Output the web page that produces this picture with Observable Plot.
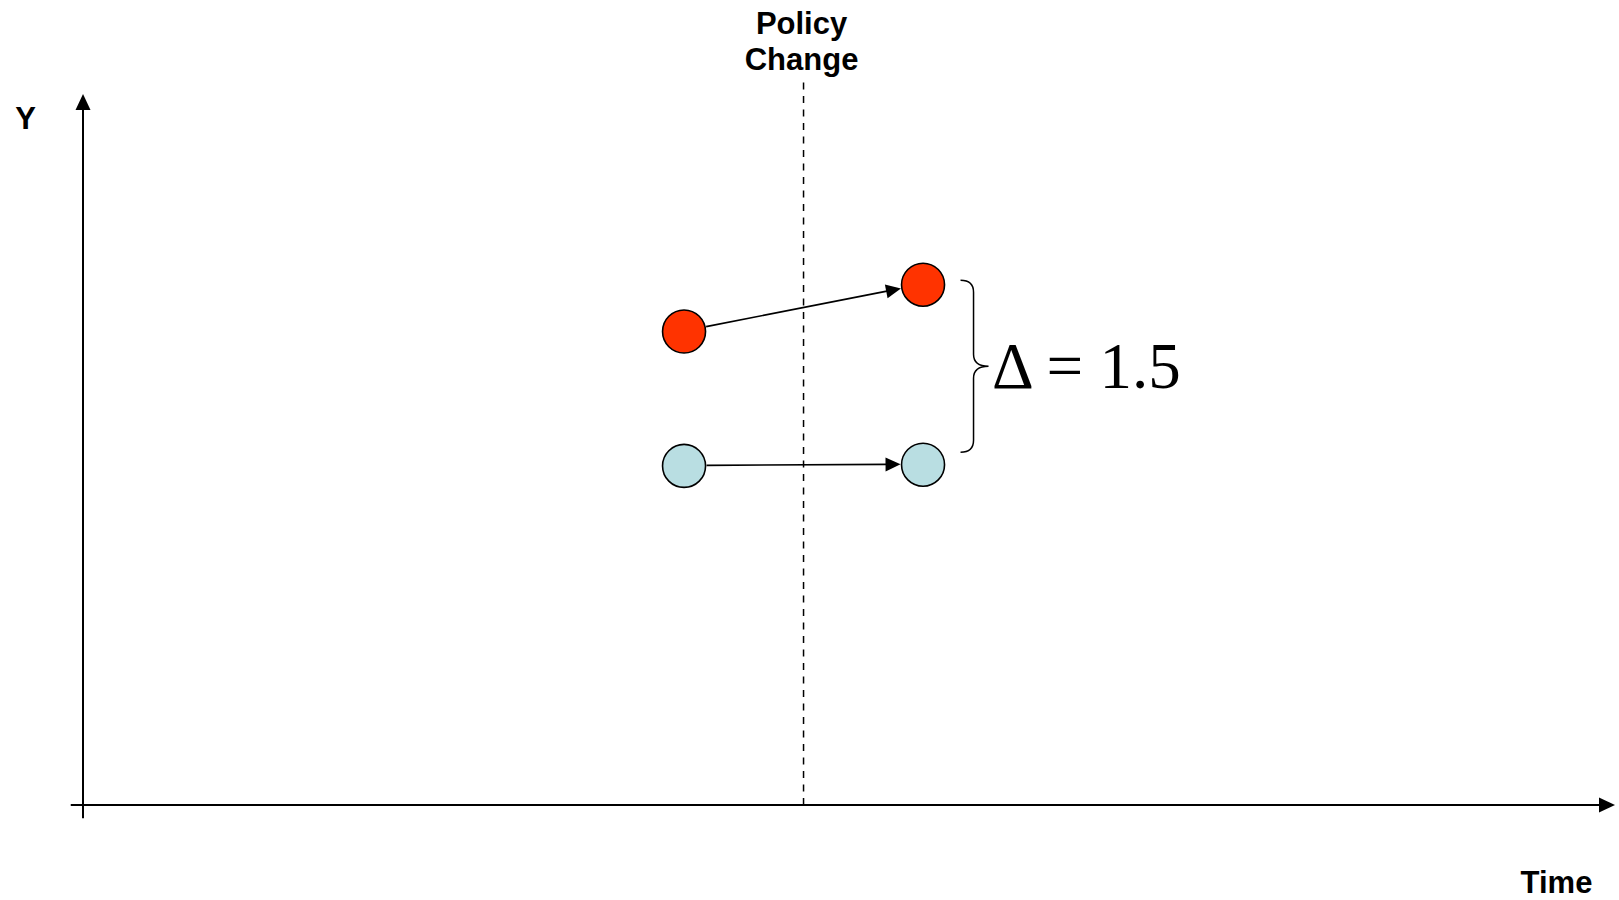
<!DOCTYPE html>
<html>
<head>
<meta charset="utf-8">
<script src="https://cdn.jsdelivr.net/npm/d3@7"></script>
<script src="https://cdn.jsdelivr.net/npm/@observablehq/plot@0.6"></script>
<style>
  html, body { margin: 0; padding: 0; background: #ffffff; }
  svg { display: block; }
</style>
</head>
<body>
<div id="chart"></div>
<script>
// Observation periods (horizontal time units)
const periods = ["before", "after"];
const periodTimes = [3.92, 5.48];
const policyTime = 4.70;

// Outcome Y per group in each period
const groups = ["treated", "control"];
const treatedValues = [3.95, 4.34];
const controlValues = [2.83, 2.84];
const groupColors = ["#FF3300", "#B9DEE2"];

// Gap between the groups after the policy change
const delta = 1.5;

// Extents of the drawn axes and the policy marker
const timeExtent = [-0.08, 10];
const yExtent = [-0.11, 5.925];
const policyLineTop = 6.04;

// Axis titles
const xTitle = "Time";
const yTitle = "Y";
const policyTitle = "Policy\nChange";

const seriesValues = [treatedValues, controlValues];
const points = groups.flatMap((group, gi) =>
  periods.map((period, pi) => ({
    group, period, time: periodTimes[pi], value: seriesValues[gi][pi], color: groupColors[gi]
  }))
);
const moves = groups.map((group, gi) => ({
  x1: periodTimes[0], y1: seriesValues[gi][0],
  x2: periodTimes[1], y2: seriesValues[gi][1]
}));
const axes = [
  {x1: timeExtent[0], y1: 0, x2: timeExtent[1], y2: 0},
  {x1: 0, y1: yExtent[0], x2: 0, y2: yExtent[1]}
];

// Straight arrows with filled triangular heads, positioned through the x/y scales
function filledArrows(data, {insetStart = 0, insetEnd = 0, strokeWidth = 1.5, headLength = 15, headWidth = 14} = {}) {
  return (index, scales) => {
    const g = d3.create("svg:g");
    for (const d of data) {
      const x1 = scales.x(d.x1), y1 = scales.y(d.y1);
      const x2 = scales.x(d.x2), y2 = scales.y(d.y2);
      const len = Math.hypot(x2 - x1, y2 - y1);
      const ux = (x2 - x1) / len, uy = (y2 - y1) / len;
      const sx = x1 + ux * insetStart, sy = y1 + uy * insetStart;
      const tx = x2 - ux * insetEnd, ty = y2 - uy * insetEnd;
      const bx = tx - ux * headLength, by = ty - uy * headLength;
      const px = -uy * headWidth / 2, py = ux * headWidth / 2;
      g.append("line")
        .attr("x1", sx).attr("y1", sy)
        .attr("x2", bx + ux * 2).attr("y2", by + uy * 2)
        .attr("stroke", "#000").attr("stroke-width", strokeWidth);
      g.append("path")
        .attr("d", `M${tx},${ty}L${bx + px},${by + py}L${bx - px},${by - py}Z`)
        .attr("fill", "#000");
    }
    return g.node();
  };
}

// Curly brace spanning the post-policy gap
function gapBrace(time, low, high, {offset = 38, spine = 13, tip = 28, radius = 12, topInset = 4, bottomInset = -12} = {}) {
  return (index, scales) => {
    const x0 = scales.x(time) + offset;
    const xs = x0 + spine, xt = x0 + tip;
    const yTop = scales.y(high) - topInset;
    const yBot = scales.y(low) + bottomInset;
    const yMid = (yTop + yBot) / 2;
    const r = radius;
    const d = `M${x0},${yTop}Q${xs},${yTop} ${xs},${yTop + r}` +
      `L${xs},${yMid - r}Q${xs},${yMid} ${xt},${yMid}` +
      `Q${xs},${yMid} ${xs},${yMid + r}` +
      `L${xs},${yBot - r}Q${xs},${yBot} ${x0},${yBot}`;
    return d3.create("svg:path")
      .attr("d", d).attr("fill", "none")
      .attr("stroke", "#000").attr("stroke-width", 1.5)
      .node();
  };
}

const labelFont = "'Liberation Sans', Arial, Helvetica, sans-serif";

const chart = Plot.plot({
  width: 1619,
  height: 900,
  margin: 0,
  style: {background: "#ffffff", fontFamily: labelFont, overflow: "visible"},
  x: {type: "linear", domain: [0, 10], range: [83, 1615], axis: null},
  y: {type: "linear", domain: [0, 6], range: [805, 85], axis: null},
  marks: [
    // policy change marker
    Plot.ruleX([policyTime], {
      x: d => d, y1: 0, y2: policyLineTop,
      stroke: "#000", strokeWidth: 1.5, strokeDasharray: "7,6.5"
    }),
    // axes with arrowheads
    filledArrows(axes, {strokeWidth: 2, headLength: 16, headWidth: 15}),
    // movement of each group across the policy change
    filledArrows(moves, {insetStart: 23, insetEnd: 22, strokeWidth: 1.7, headLength: 15, headWidth: 14}),
    Plot.dot(points, {
      x: "time", y: "value", r: 21.5,
      fill: "color", stroke: "#000", strokeWidth: 1.6
    }),
    gapBrace(periodTimes[1], controlValues[1], controlValues[1] + delta),
    Plot.text([`Δ = ${delta}`], {
      x: periodTimes[1], y: controlValues[1] + delta / 2,
      text: d => d, textAnchor: "start", lineAnchor: "bottom",
      dx: 69, dy: 13,
      fontFamily: "'Liberation Serif', 'Times New Roman', serif",
      fontSize: 65, fill: "#000"
    }),
    Plot.text([policyTitle], {
      x: policyTime, y: policyLineTop,
      text: d => d, textAnchor: "middle", lineAnchor: "bottom",
      lineHeight: 1.16, dx: -2, dy: -11,
      fontSize: 31, fontWeight: "bold", fill: "#000"
    }),
    Plot.text([yTitle], {
      x: 0, y: yExtent[1],
      text: d => d, textAnchor: "middle", lineAnchor: "bottom",
      dx: -58, dy: 34,
      fontSize: 31, fontWeight: "bold", fill: "#000"
    }),
    Plot.text([xTitle], {
      x: timeExtent[1], y: 0,
      text: d => d, textAnchor: "middle", lineAnchor: "bottom",
      dx: -59, dy: 87,
      fontSize: 31, fontWeight: "bold", fill: "#000"
    })
  ]
});

document.getElementById("chart").append(chart);
</script>
</body>
</html>
